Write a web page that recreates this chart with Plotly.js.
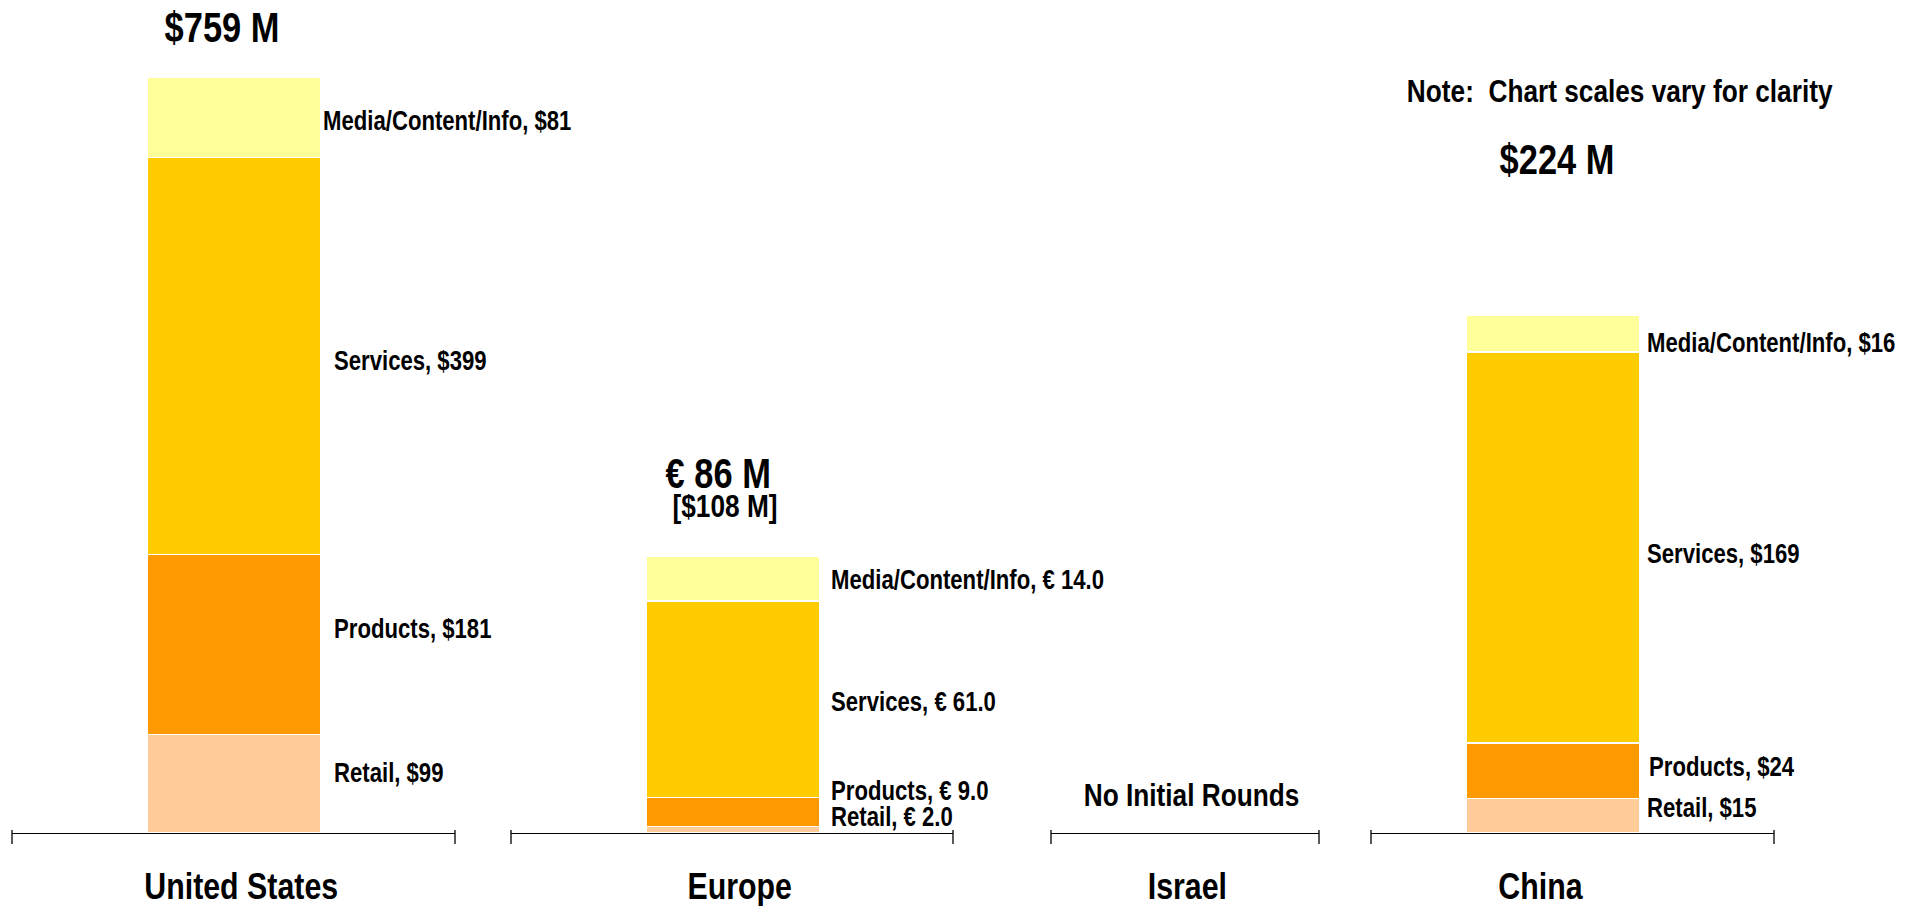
<!DOCTYPE html>
<html>
<head>
<meta charset="utf-8">
<script src="https://cdn.plot.ly/plotly-3.0.1.min.js"></script>
<style>html,body{margin:0;padding:0;background:#fff;}#chart{width:1915px;height:906px;}</style>
</head>
<body>
<div id="chart"></div>
<script>
// ---- data ----
const regions = ["United States", "Europe", "Israel", "China"];
const segments = ["Retail", "Products", "Services", "Media/Content/Info"];
const retail = [99, 2.0, null, 15];
const products = [181, 9.0, null, 24];
const services = [399, 61.0, null, 169];
const media = [81, 14.0, null, 16];
const totalLabels = ["$759 M", "€ 86 M", "", "$224 M"];
const usdLabels = ["", "[$108 M]", "", ""];
const currencyPrefix = ["$", "€ ", "", "$"];
const valueDecimals = [0, 1, 0, 0];
const emptyLabel = "No Initial Rounds";
const noteText = "Note:\u00A0\u00A0Chart scales vary for clarity";

// ---- style ----
const segmentColors = ["#FFCC99", "#FF9900", "#FFCC00", "#FFFF99"];
const FONT = "'Liberation Sans', Arial, sans-serif";
const NARROW = 0.82; // Arial Narrow ≈ Arial compressed horizontally
const W = 1915, H = 906, B = 73, PH = H - B;
const axisPx = [[12, 455], [511, 953], [1051, 1319], [1371, 1774]];
const barCenterPx = [234, 733, 1186, 1553];
const barPx = 174;
const yMax = [837.4, 258.6, 100, 360.2];
const labelXShift = [[98, 98, 98, 87], [96, 96, 96, 96], [0, 0, 0, 0], [92, 94, 92, 92]];
const labelYShift = [[11, 16, -5, -4], [13, 21, -3, -1], [0, 0, 0, 0], [8, 4, -7, -10]];
const countryX = [0.517, 0.518, 0.509, 0.42];

const seriesBySegment = [retail, products, services, media];
const px2py = p => (PH - p) / PH;

const traces = [];
const annotations = [];
const shapes = [];
const layout = {
  width: W, height: H,
  margin: {l: 0, r: 0, t: 0, b: B, pad: 0},
  paper_bgcolor: "#fff", plot_bgcolor: "rgba(0,0,0,0)",
  barmode: "stack", bargap: 0, showlegend: false,
  font: {family: FONT, color: "#000", weight: "bold"},
  hovermode: false
};

regions.forEach((reg, i) => {
  const n = i + 1;
  const xa = n === 1 ? "x" : "x" + n;
  const ya = n === 1 ? "y" : "y" + n;
  const c = barCenterPx[i];
  layout[n === 1 ? "xaxis" : "xaxis" + n] = {
    domain: [axisPx[i][0] / W, axisPx[i][1] / W], anchor: ya,
    type: "category", range: [(axisPx[i][0] - c) / barPx, (axisPx[i][1] - c) / barPx], fixedrange: true,
    showline: true, linecolor: "#000", linewidth: 1.4, mirror: false,
    showgrid: false, zeroline: false, showticklabels: false, ticks: ""
  };
  layout[n === 1 ? "yaxis" : "yaxis" + n] = {
    domain: [0, 1], anchor: xa, range: [0, yMax[i]], visible: false, fixedrange: true
  };
  // end ticks
  [0, 1].forEach(fx => shapes.push({
    type: "line", xref: xa + " domain", yref: "paper",
    x0: fx, x1: fx, y0: 3 / PH, y1: -11 / PH,
    line: {color: "#000", width: 1.3}
  }));
  // country label
  annotations.push({
    text: reg, xref: xa + " domain", yref: "paper",
    x: countryX[i], y: px2py(887), xanchor: "center", yanchor: "middle", borderpad: 0,
    showarrow: false, font: {family: FONT, size: 37, color: "#000", weight: "bold"}
  });

  let base = 0;
  let any = false;
  seriesBySegment.forEach((ser, s) => {
    const v = ser[i];
    if (v === null) return;
    any = true;
    traces.push({
      type: "bar", x: [reg], y: [v], width: 1, xaxis: xa, yaxis: ya,
      name: segments[s],
      marker: {color: segmentColors[s], line: {color: "#fff", width: 1.5}},
      hoverinfo: "skip"
    });
    annotations.push({
      text: segments[s] + ", " + currencyPrefix[i] + v.toFixed(valueDecimals[i]),
      xref: xa, yref: ya, x: reg, y: base + v / 2,
      xanchor: "left", yanchor: "middle",
      xshift: labelXShift[i][s], yshift: labelYShift[i][s],
      showarrow: false, font: {family: FONT, size: 27, color: "#000", weight: "bold"}
    });
    base += v;
  });
  if (!any) {
    // empty region: keep its axis present
    traces.push({type: "bar", x: [reg], y: [null], width: 1, xaxis: xa, yaxis: ya, hoverinfo: "skip"});
  }
});

// totals and notes
const totalPos = [[222, 28], [718, 473], null, [1557, 160]];
regions.forEach((reg, i) => {
  if (totalLabels[i]) annotations.push({
    text: totalLabels[i], xref: "paper", yref: "paper",
    x: totalPos[i][0] / W, y: px2py(totalPos[i][1]), xanchor: "center", yanchor: "middle", borderpad: 0,
    showarrow: false, font: {family: FONT, size: 42, color: "#000", weight: "bold"}
  });
  if (usdLabels[i]) annotations.push({
    text: usdLabels[i], xref: "paper", yref: "paper",
    x: 725 / W, y: px2py(506), xanchor: "center", yanchor: "middle", borderpad: 0,
    showarrow: false, font: {family: FONT, size: 32, color: "#000", weight: "bold"}
  });
});
annotations.push({
  text: emptyLabel, xref: "x3 domain", yref: "paper",
  x: 0.524, y: px2py(795), xanchor: "center", yanchor: "middle",
  showarrow: false, font: {family: FONT, size: 32, color: "#000", weight: "bold"}
});
annotations.push({
  text: noteText, xref: "paper", yref: "paper",
  x: 1620 / W, y: px2py(91), xanchor: "center", yanchor: "middle",
  showarrow: false, font: {family: FONT, size: 32, color: "#000", weight: "bold"}
});

layout.annotations = annotations;
layout.shapes = shapes;

function condense() {
  document.querySelectorAll("#chart g.annotation").forEach(g => {
    const idx = +g.getAttribute("data-index");
    const ann = layout.annotations[idx];
    const t = g.querySelector("text.annotation-text");
    if (!t || !ann) return;
    const bb = t.getBBox();
    const ax = ann.xanchor === "left" ? bb.x : (ann.xanchor === "right" ? bb.x + bb.width : bb.x + bb.width / 2);
    const prev = t.getAttribute("transform") || "";
    t.setAttribute("transform", prev + " translate(" + ax + ",0) scale(" + NARROW + ",1) translate(" + (-ax) + ",0)");
  });
}

Plotly.newPlot("chart", traces, layout, {displayModeBar: false, staticPlot: true}).then(condense);
</script>
</body>
</html>
